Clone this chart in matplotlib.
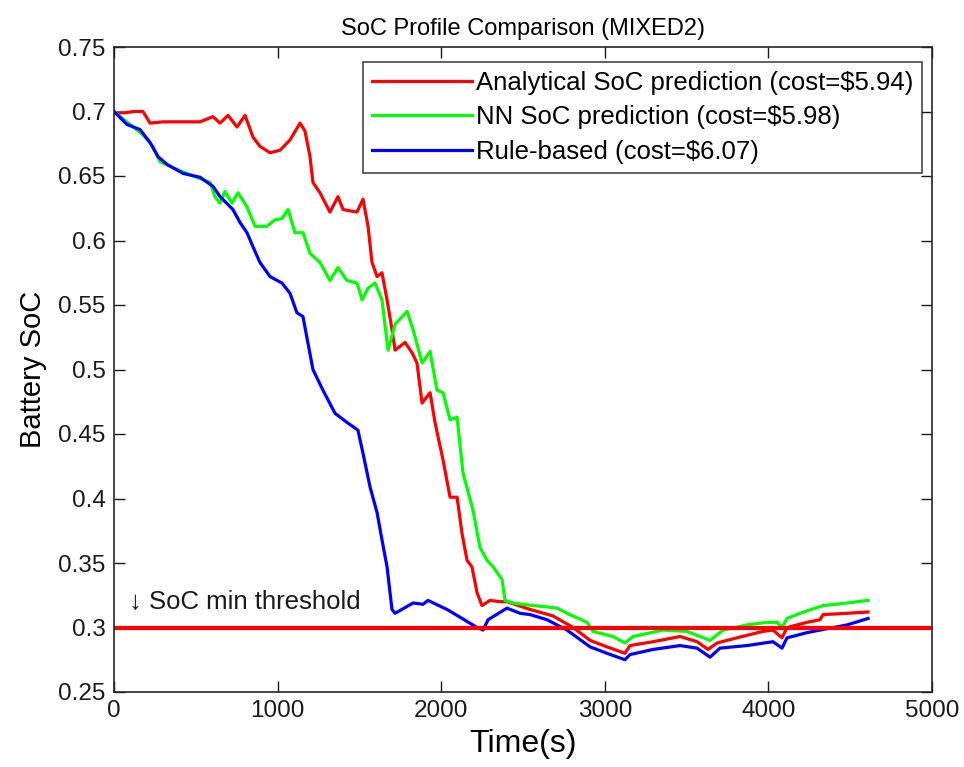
import matplotlib
matplotlib.use("Agg")
import matplotlib.pyplot as plt

plt.rcParams['font.family'] = ['Liberation Sans', 'DejaVu Sans']

# ---- data ----
t_analytical = [0, 67, 120, 177, 220, 300, 403, 526, 605, 648, 697, 752, 801, 850, 892, 954,
                1015, 1076, 1137, 1167, 1198, 1216, 1259, 1320, 1369, 1400, 1485, 1522, 1553,
                1577, 1608, 1638, 1669, 1699, 1718, 1779, 1822, 1852, 1883, 1932, 1962, 2011,
                2054, 2097, 2127, 2158, 2188, 2219, 2249, 2298, 2359, 2402, 2543, 2683, 2806,
                2910, 3013, 3123, 3154, 3295, 3460, 3564, 3631, 3686, 3808, 3967, 4028, 4083,
                4114, 4236, 4315, 4334, 4481, 4609]
soc_analytical = [0.699, 0.699, 0.700, 0.700, 0.691, 0.692, 0.692, 0.692, 0.696, 0.691, 0.697,
                  0.688, 0.697, 0.680, 0.673, 0.668, 0.670, 0.678, 0.691, 0.685, 0.665, 0.645,
                  0.637, 0.622, 0.634, 0.624, 0.622, 0.632, 0.611, 0.583, 0.572, 0.575, 0.554,
                  0.531, 0.515, 0.521, 0.513, 0.505, 0.474, 0.482, 0.459, 0.430, 0.401, 0.401,
                  0.373, 0.352, 0.347, 0.327, 0.317, 0.321, 0.320, 0.320, 0.314, 0.309, 0.300,
                  0.290, 0.285, 0.280, 0.286, 0.289, 0.293, 0.289, 0.283, 0.288, 0.292, 0.297,
                  0.298, 0.292, 0.300, 0.304, 0.306, 0.310, 0.311, 0.312]

t_nn = [0, 116, 177, 238, 281, 385, 465, 587, 617, 648, 678, 721, 758, 813, 862, 935, 984,
        1027, 1064, 1106, 1155, 1198, 1259, 1320, 1369, 1424, 1485, 1516, 1553, 1595, 1638,
        1675, 1718, 1791, 1828, 1883, 1932, 1974, 2011, 2054, 2097, 2133, 2194, 2237, 2280,
        2317, 2372, 2390, 2439, 2561, 2647, 2708, 2769, 2891, 2928, 3050, 3123, 3172, 3356,
        3502, 3643, 3723, 3869, 3991, 4053, 4083, 4114, 4193, 4334, 4481, 4609]
soc_nn = [0.700, 0.688, 0.682, 0.673, 0.661, 0.655, 0.651, 0.645, 0.634, 0.629, 0.638, 0.629,
          0.637, 0.626, 0.611, 0.611, 0.616, 0.617, 0.624, 0.606, 0.606, 0.590, 0.583, 0.569,
          0.579, 0.569, 0.567, 0.554, 0.563, 0.567, 0.554, 0.515, 0.535, 0.545, 0.531, 0.505,
          0.514, 0.484, 0.482, 0.461, 0.463, 0.420, 0.391, 0.362, 0.352, 0.347, 0.337, 0.321,
          0.319, 0.317, 0.316, 0.315, 0.311, 0.304, 0.297, 0.293, 0.288, 0.293, 0.298, 0.297,
          0.290, 0.298, 0.302, 0.304, 0.304, 0.300, 0.307, 0.311, 0.317, 0.319, 0.321]

t_rule = [0, 79, 159, 220, 269, 324, 422, 526, 605, 648, 727, 770, 813, 850, 892, 954, 1027,
          1076, 1118, 1155, 1216, 1277, 1351, 1424, 1491, 1522, 1565, 1608, 1638, 1669, 1699,
          1718, 1828, 1889, 1919, 2035, 2115, 2219, 2256, 2286, 2402, 2482, 2543, 2647, 2769,
          2910, 3013, 3123, 3154, 3295, 3460, 3564, 3643, 3704, 3869, 4028, 4083, 4114, 4236,
          4315, 4481, 4609]
soc_rule = [0.700, 0.690, 0.686, 0.676, 0.665, 0.659, 0.652, 0.649, 0.642, 0.634, 0.624, 0.614,
            0.606, 0.595, 0.583, 0.572, 0.567, 0.559, 0.544, 0.541, 0.500, 0.484, 0.466, 0.459,
            0.453, 0.435, 0.409, 0.389, 0.368, 0.347, 0.314, 0.311, 0.319, 0.318, 0.321, 0.314,
            0.308, 0.300, 0.298, 0.306, 0.315, 0.311, 0.310, 0.306, 0.298, 0.285, 0.280, 0.275,
            0.279, 0.283, 0.286, 0.284, 0.277, 0.284, 0.286, 0.289, 0.284, 0.292, 0.296, 0.298,
            0.302, 0.307]

soc_threshold = 0.3
series_labels = ["Analytical SoC prediction (cost=$5.94)",
                 "NN SoC prediction (cost=$5.98)",
                 "Rule-based (cost=$6.07)"]
x_ticks = [0, 1000, 2000, 3000, 4000, 5000]
y_ticks = [0.25, 0.3, 0.35, 0.4, 0.45, 0.5, 0.55, 0.6, 0.65, 0.7, 0.75]
y_tick_labels = ["0.25", "0.3", "0.35", "0.4", "0.45", "0.5", "0.55", "0.6", "0.65", "0.7", "0.75"]

# ---- figure ----
fig = plt.figure(figsize=(9.64, 7.67), dpi=100)
ax = fig.add_axes([114/964, 75/767, 818/964, 645/767])

lw = 2.3
ax.plot(t_analytical, soc_analytical, color=(1, 0, 0), lw=lw, label=series_labels[0])
ax.plot(t_nn, soc_nn, color=(0, 1, 0), lw=lw, label=series_labels[1])
ax.plot(t_rule, soc_rule, color=(0, 0, 1), lw=lw, label=series_labels[2])
ax.axhline(soc_threshold, color=(1, 0, 0), lw=3.0)

ax.text(90, 0.3195, "\u2193 SoC min threshold", fontsize=18.5, ha='left', va='center',
        color='#1a1a1a', family=['Liberation Sans', 'DejaVu Sans'])

ax.set_xlim(0, 5000)
ax.set_ylim(0.25, 0.75)
ax.set_xticks(x_ticks)
ax.set_xticklabels([str(v) for v in x_ticks])
ax.set_yticks(y_ticks)
ax.set_yticklabels(y_tick_labels)
ax.tick_params(direction='in', length=8, width=1, top=True, right=True,
               labelsize=17.5, colors='#1a1a1a', pad=6)
for s in ax.spines.values():
    s.set_linewidth(1.2)
    s.set_color('#262626')

ax.set_xlabel("Time(s)", fontsize=23, labelpad=5)
ax.set_ylabel("Battery SoC", fontsize=21, labelpad=8)
ax.set_title("SoC Profile Comparison (MIXED2)", fontsize=17, pad=9)

leg = ax.legend(loc='upper right', bbox_to_anchor=(922/964, 1 - 62/767), bbox_transform=fig.transFigure,
                fontsize=18.5, frameon=True, fancybox=False, edgecolor='#1a1a1a',
                handlelength=3.9, handletextpad=0.15, borderpad=0.35, labelspacing=0.4,
                borderaxespad=0)
leg.get_frame().set_linewidth(1.2)

fig.savefig("out.png", dpi=100)
